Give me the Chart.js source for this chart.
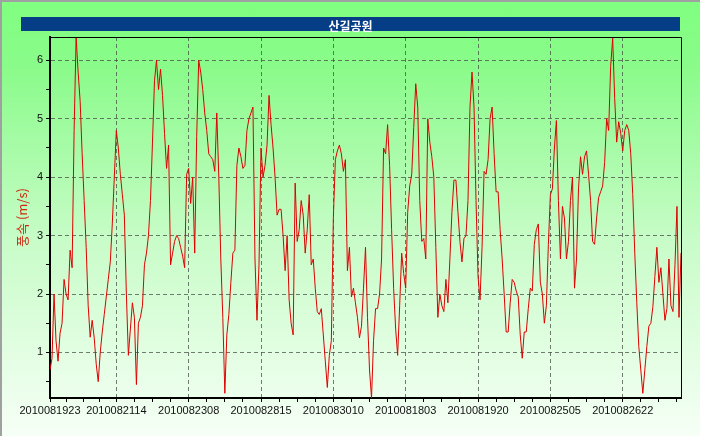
<!DOCTYPE html>
<html>
<head>
<meta charset="utf-8">
<script src="https://cdn.jsdelivr.net/npm/chart.js@4/dist/chart.umd.min.js"></script>
<style>
  body { margin: 0; background: #fff; }
  #frame {
    position: absolute; left: 0; top: 0; width: 698px; height: 434px;
    border-top: 2px solid #a0a0a0; border-left: 2px solid #a0a0a0;
    background: linear-gradient(to bottom, #80ff80 0%, #8afb8a 15%, #c8fcc8 55%, #f6fff6 100%);
  }
  #title {
    position: absolute; left: 19px; top: 15px; width: 659px; height: 14px;
    background: #053d86; color: #fff; text-align: center; line-height: 14px;
    font: bold 12px "Noto Sans CJK KR", sans-serif;
  }
  canvas { position: absolute; left: 0; top: 0; }
</style>
</head>
<body>
<div id="frame">
  <canvas id="chart" width="698" height="434"></canvas>
  <div id="title">산길공원</div>
</div>
<script>
// x axis labels and the sample index each one sits on
const tickLabels = ['2010081923', '2010082114', '2010082308', '2010082815', '2010083010',
                    '2010081803', '2010081920', '2010082505', '2010082622'];
const tickAt = [0, 33, 69, 105, 141, 177, 213, 249, 285];

// wind speed (m/s), one value per sample
const speed = [
  0.7, 0.9, 2.0, 1.2, 0.85, 1.33, 1.5, 2.25, 2.0, 1.9,
  2.75, 2.45, 4.8, 6.4, 5.8, 5.3, 4.4, 3.6, 2.8, 1.8,
  1.26, 1.55, 1.25, 0.8, 0.5, 1.0, 1.35, 1.65, 1.95, 2.25,
  2.55, 3.2, 4.0, 4.8, 4.5, 4.05, 3.7, 3.35, 2.0, 0.95,
  1.4, 1.85, 1.6, 0.45, 1.5, 1.6, 1.8, 2.5, 2.7, 3.0,
  3.6, 4.6, 5.65, 6.0, 5.5, 5.85, 5.4, 4.75, 4.15, 4.55,
  2.5, 2.7, 2.9, 3.0, 2.95, 2.8, 2.65, 2.45, 4.05, 4.15,
  3.55, 4.0, 2.7, 4.7, 6.0, 5.8, 5.5, 5.1, 4.8, 4.4,
  4.35, 4.3, 4.1, 5.1, 4.0, 2.6, 1.6, 0.3, 1.3, 1.65,
  2.2, 2.7, 2.75, 4.2, 4.5, 4.35, 4.15, 4.2, 4.8, 5.0,
  5.1, 5.2, 2.6, 1.55, 2.5, 4.5, 4.0, 4.2, 4.55, 5.4,
  4.9, 4.5, 4.0, 3.35, 3.45, 3.45, 3.0, 2.4, 3.0, 1.9,
  1.5, 1.3, 3.9, 2.9, 3.1, 3.6, 3.35, 2.7, 3.1, 3.7,
  2.5, 2.6, 2.1, 1.7, 1.65, 1.75, 1.3, 0.85, 0.4, 0.95,
  1.2, 3.3, 4.3, 4.45, 4.55, 4.4, 4.1, 4.3, 2.4, 2.8,
  1.95, 2.1, 1.85, 1.6, 1.25, 1.45, 2.1, 2.8, 1.6, 0.7,
  0.22, 1.2, 1.75, 1.75, 2.0, 2.6, 4.5, 4.4, 4.9, 4.2,
  3.1, 2.1, 1.4, 0.95, 1.8, 2.7, 2.35, 2.1, 3.4, 3.85,
  4.05, 4.85, 5.6, 5.2, 3.6, 2.9, 2.95, 2.6, 5.0, 4.6,
  4.35, 4.0, 2.8, 1.6, 2.0, 1.8, 1.7, 2.25, 1.85, 2.6,
  3.4, 3.95, 3.95, 3.4, 2.9, 2.55, 2.95, 3.0, 3.6, 5.2,
  5.8, 5.2, 3.6, 2.3, 1.9, 2.8, 4.1, 4.05, 4.3, 5.0,
  5.2, 4.4, 3.75, 3.75, 3.1, 2.6, 2.0, 1.35, 1.35, 1.85,
  2.25, 2.2, 2.05, 1.95, 1.3, 0.9, 1.35, 1.35, 1.75, 2.1,
  2.05, 2.85, 3.1, 3.2, 2.2, 2.0, 1.5, 1.8, 2.85, 3.7,
  3.8, 4.5, 4.97, 3.6, 2.6, 3.5, 3.3, 2.6, 2.9, 3.6,
  4.0, 2.1, 2.6, 3.8, 4.35, 4.05, 4.35, 4.45, 4.05, 3.6,
  2.9, 2.85, 3.3, 3.65, 3.75, 3.85, 4.25, 5.0, 4.8, 5.9,
  6.38, 5.35, 4.6, 4.95, 4.75, 4.45, 4.8, 4.9, 4.8, 4.4,
  3.7, 2.7, 1.85, 1.1, 0.7, 0.3, 0.7, 1.1, 1.45, 1.5,
  1.78, 2.3, 2.8, 2.2, 2.45, 2.0, 1.55, 1.75, 2.6, 1.8,
  1.7, 2.5, 3.5, 1.6, 2.7
];

const yTicks = [0.5, 1, 1.5, 2, 2.5, 3, 3.5, 4, 4.5, 5, 5.5, 6];

// small ticks: four steps inside each labelled interval
const xTicks = [];
for (let k = 0; k < tickAt.length; k++) {
  const from = tickAt[k];
  const to = k + 1 < tickAt.length ? tickAt[k + 1] : from + 36;
  for (let q = 0; q < 4; q++) {
    const v = from + (to - from) * q / 4;
    if (v <= speed.length - 1) xTicks.push(v);
  }
}

const gridGray = 'rgba(70,80,70,0.75)';
const tickFont = { family: 'Liberation Sans', size: 11 };

const plotFrame = {
  id: 'plotFrame',
  afterDraw(chart) {
    const { ctx, chartArea: a } = chart;
    ctx.save();
    ctx.strokeStyle = '#000';
    ctx.lineWidth = 1;
    ctx.beginPath();
    ctx.moveTo(a.left, a.top + 0.5);
    ctx.lineTo(a.right + 0.5, a.top + 0.5);
    ctx.lineTo(a.right + 0.5, a.bottom);
    ctx.stroke();
    ctx.restore();
  }
};

new Chart(document.getElementById('chart'), {
  type: 'line',
  data: {
    datasets: [{
      data: speed.map((v, i) => ({ x: i, y: v })),
      borderColor: '#dd0000',
      borderWidth: 1,
      pointRadius: 0,
      tension: 0
    }]
  },
  options: {
    responsive: false,
    animation: false,
    devicePixelRatio: 1,
    layout: { padding: { left: 0, top: 35, right: 19, bottom: 0 } },
    plugins: { legend: { display: false }, tooltip: { enabled: false } },
    scales: {
      x: {
        type: 'linear',
        min: 0,
        max: speed.length - 1,
        afterBuildTicks: s => { s.ticks = xTicks.map(value => ({ value })); },
        afterFit: s => { s.height = 38; },
        ticks: {
          autoSkip: false, maxRotation: 0, padding: 2, color: '#111', font: tickFont,
          callback: v => { const k = tickAt.indexOf(v); return k < 0 ? '' : tickLabels[k]; }
        },
        grid: {
          color: c => (c.tick && tickAt.includes(c.tick.value)) ? gridGray : 'transparent',
          tickColor: '#000', tickLength: 4
        },
        border: { color: '#000', width: 2, dash: [4, 3] }
      },
      y: {
        min: 0.22,
        max: 6.4,
        afterBuildTicks: s => { s.ticks = yTicks.map(value => ({ value })); },
        afterFit: s => { s.width = 48; },
        ticks: {
          padding: 3, color: '#111', font: tickFont,
          callback: v => Number.isInteger(v) ? String(v) : ''
        },
        grid: {
          color: c => (c.tick && Number.isInteger(c.tick.value)) ? gridGray : 'transparent',
          tickColor: '#000', tickLength: 4
        },
        border: { color: '#000', width: 2, dash: [4, 3] },
        title: {
          display: true, text: '풍속 (m/s)', color: '#cc2a10',
          font: { family: 'Noto Sans CJK KR', size: 13 },
          padding: { top: 12, bottom: 0 }
        }
      }
    }
  },
  plugins: [plotFrame]
});
</script>
</body>
</html>
